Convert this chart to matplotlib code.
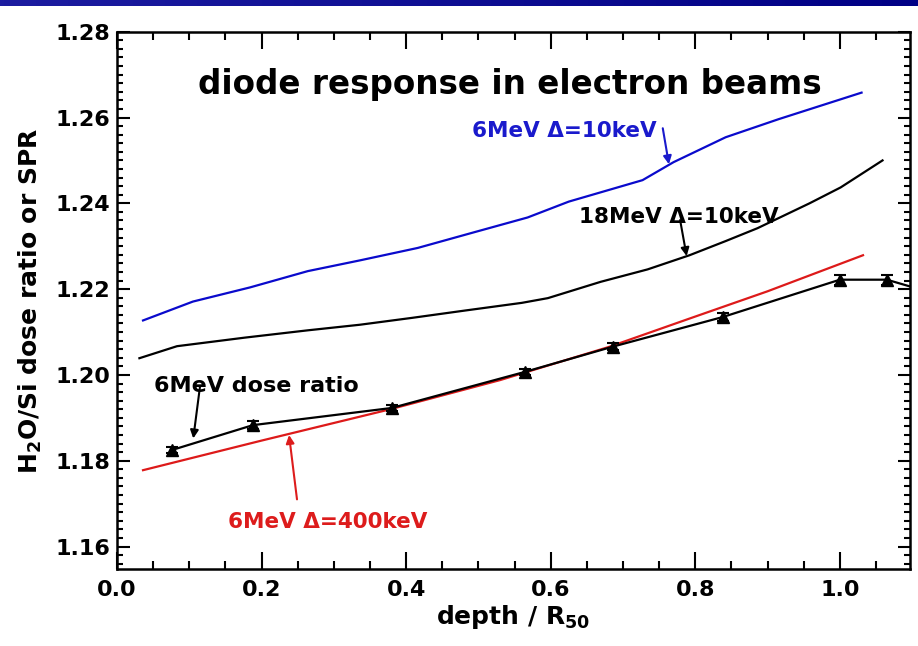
import numpy as np
import matplotlib
matplotlib.use('Agg')
import matplotlib.pyplot as plt
from matplotlib.ticker import MultipleLocator

plt.rcParams['font.family'] = ['DejaVu Sans']
plt.rcParams['font.weight'] = 'bold'
plt.rcParams['mathtext.default'] = 'regular'

# 6MeV, delta = 10 keV (blue)
blue_x = [0.036, 0.105, 0.184, 0.264, 0.336, 0.416, 0.495, 0.568, 0.625, 0.727, 0.770, 0.842, 0.915, 1.030]
blue_y = [1.2127, 1.2171, 1.2204, 1.2242, 1.2267, 1.2296, 1.2333, 1.2367, 1.2404, 1.2454, 1.2496, 1.2554, 1.2596, 1.2658]

# 18MeV, delta = 10 keV (black)
mev18_x = [0.031, 0.083, 0.177, 0.264, 0.336, 0.408, 0.481, 0.560, 0.596, 0.669, 0.734, 0.792, 0.842, 0.886, 0.922, 0.958, 1.001, 1.059]
mev18_y = [1.2039, 1.2067, 1.2087, 1.2104, 1.2117, 1.2133, 1.2150, 1.2168, 1.2179, 1.2217, 1.2246, 1.2279, 1.2312, 1.2342, 1.2371, 1.2400, 1.2437, 1.2500]

# 6MeV, delta = 400 keV (red)
red_x = [0.036, 0.200, 0.378, 0.530, 0.680, 0.793, 0.900, 1.032]
red_y = [1.1778, 1.1847, 1.1920, 1.1988, 1.2065, 1.2132, 1.2195, 1.2279]

# 6MeV dose ratio (points with error bars)
dose_x = [0.076, 0.188, 0.380, 0.564, 0.686, 0.838, 1.000, 1.065, 1.13]
dose_y = [1.1825, 1.1883, 1.1923, 1.2007, 1.2066, 1.2135, 1.2222, 1.2222, 1.2190]
dose_err = [0.0008, 0.0009, 0.0008, 0.0008, 0.0008, 0.0009, 0.0012, 0.0012, 0.0]

fig = plt.figure(figsize=(9.18, 6.46), dpi=100)

# blue banner at the top
band = fig.add_axes([0, 1 - 6 / 646, 1, 6 / 646])
grad = np.linspace(0, 1, 256).reshape(1, -1)
band.imshow(grad, aspect='auto', cmap=matplotlib.colors.LinearSegmentedColormap.from_list(
    'b', ['#1c1ca0', '#000085']))
band.axis('off')

ax = fig.add_axes([117 / 918, 1 - 569.3 / 646, 793 / 918, 537.6 / 646])

ax.plot(blue_x, blue_y, color='#0a0acc', lw=1.6)
ax.plot(mev18_x, mev18_y, color='black', lw=1.6)
ax.plot(red_x, red_y, color='#dd1a1a', lw=1.6)
ax.errorbar(dose_x, dose_y, yerr=dose_err, fmt='-^', color='black', ms=8,
            lw=1.6, elinewidth=1.5, capsize=4, capthick=1.5)

ax.set_xlim(0, 1.097)
ax.set_ylim(1.1547, 1.28)
ax.xaxis.set_major_locator(MultipleLocator(0.2))
ax.xaxis.set_minor_locator(MultipleLocator(0.05))
ax.yaxis.set_major_locator(MultipleLocator(0.02))
ax.yaxis.set_minor_locator(MultipleLocator(0.002))
ax.xaxis.set_major_formatter(matplotlib.ticker.FormatStrFormatter('%.1f'))
ax.yaxis.set_major_formatter(matplotlib.ticker.FormatStrFormatter('%.2f'))
ax.tick_params(which='both', direction='in', top=True, right=True, width=1.5, labelsize=16)
ax.tick_params(axis='x', which='major', length=12, pad=8)
ax.tick_params(axis='x', which='minor', length=6)
ax.tick_params(axis='y', which='major', length=9, pad=5)
ax.tick_params(axis='y', which='minor', length=4)
for s in ax.spines.values():
    s.set_linewidth(1.8)

ax.set_xlabel('depth / R$_{50}$', fontsize=18, fontweight='bold', labelpad=2)
ax.set_ylabel('H$_2$O/Si dose ratio or SPR', fontsize=18, fontweight='bold', labelpad=8)

ax.text(0.5436, 1.2655, 'diode response in electron beams', fontsize=23.5,
        fontweight='bold', ha='center', va='baseline')

arrow = dict(arrowstyle='-|>', lw=1.5, mutation_scale=12, shrinkA=0, shrinkB=0)

ax.text(0.619, 1.2554, '6MeV \u0394=10keV', color='#1a1acc', fontsize=15.5,
        fontweight='bold', ha='center', va='baseline')
ax.annotate('', xy=(0.7635, 1.2491), xytext=(0.755, 1.2575),
            arrowprops=dict(arrow, color='#1a1acc'))

ax.text(0.777, 1.2353, '18MeV \u0394=10keV', color='black', fontsize=15.5,
        fontweight='bold', ha='center', va='baseline')
ax.annotate('', xy=(0.788, 1.2277), xytext=(0.779, 1.2361),
            arrowprops=dict(arrow, color='black'))

ax.text(0.193, 1.1961, '6MeV dose ratio', color='black', fontsize=16,
        fontweight='bold', ha='center', va='baseline')
ax.annotate('', xy=(0.1055, 1.1852), xytext=(0.1148, 1.1973),
            arrowprops=dict(arrow, color='black'))

ax.text(0.291, 1.1643, '6MeV \u0394=400keV', color='#dd1c1c', fontsize=15.5,
        fontweight='bold', ha='center', va='baseline')
ax.annotate('', xy=(0.238, 1.186), xytext=(0.249, 1.171),
            arrowprops=dict(arrow, color='#dd1c1c'))

fig.savefig('out.png', dpi=100)
